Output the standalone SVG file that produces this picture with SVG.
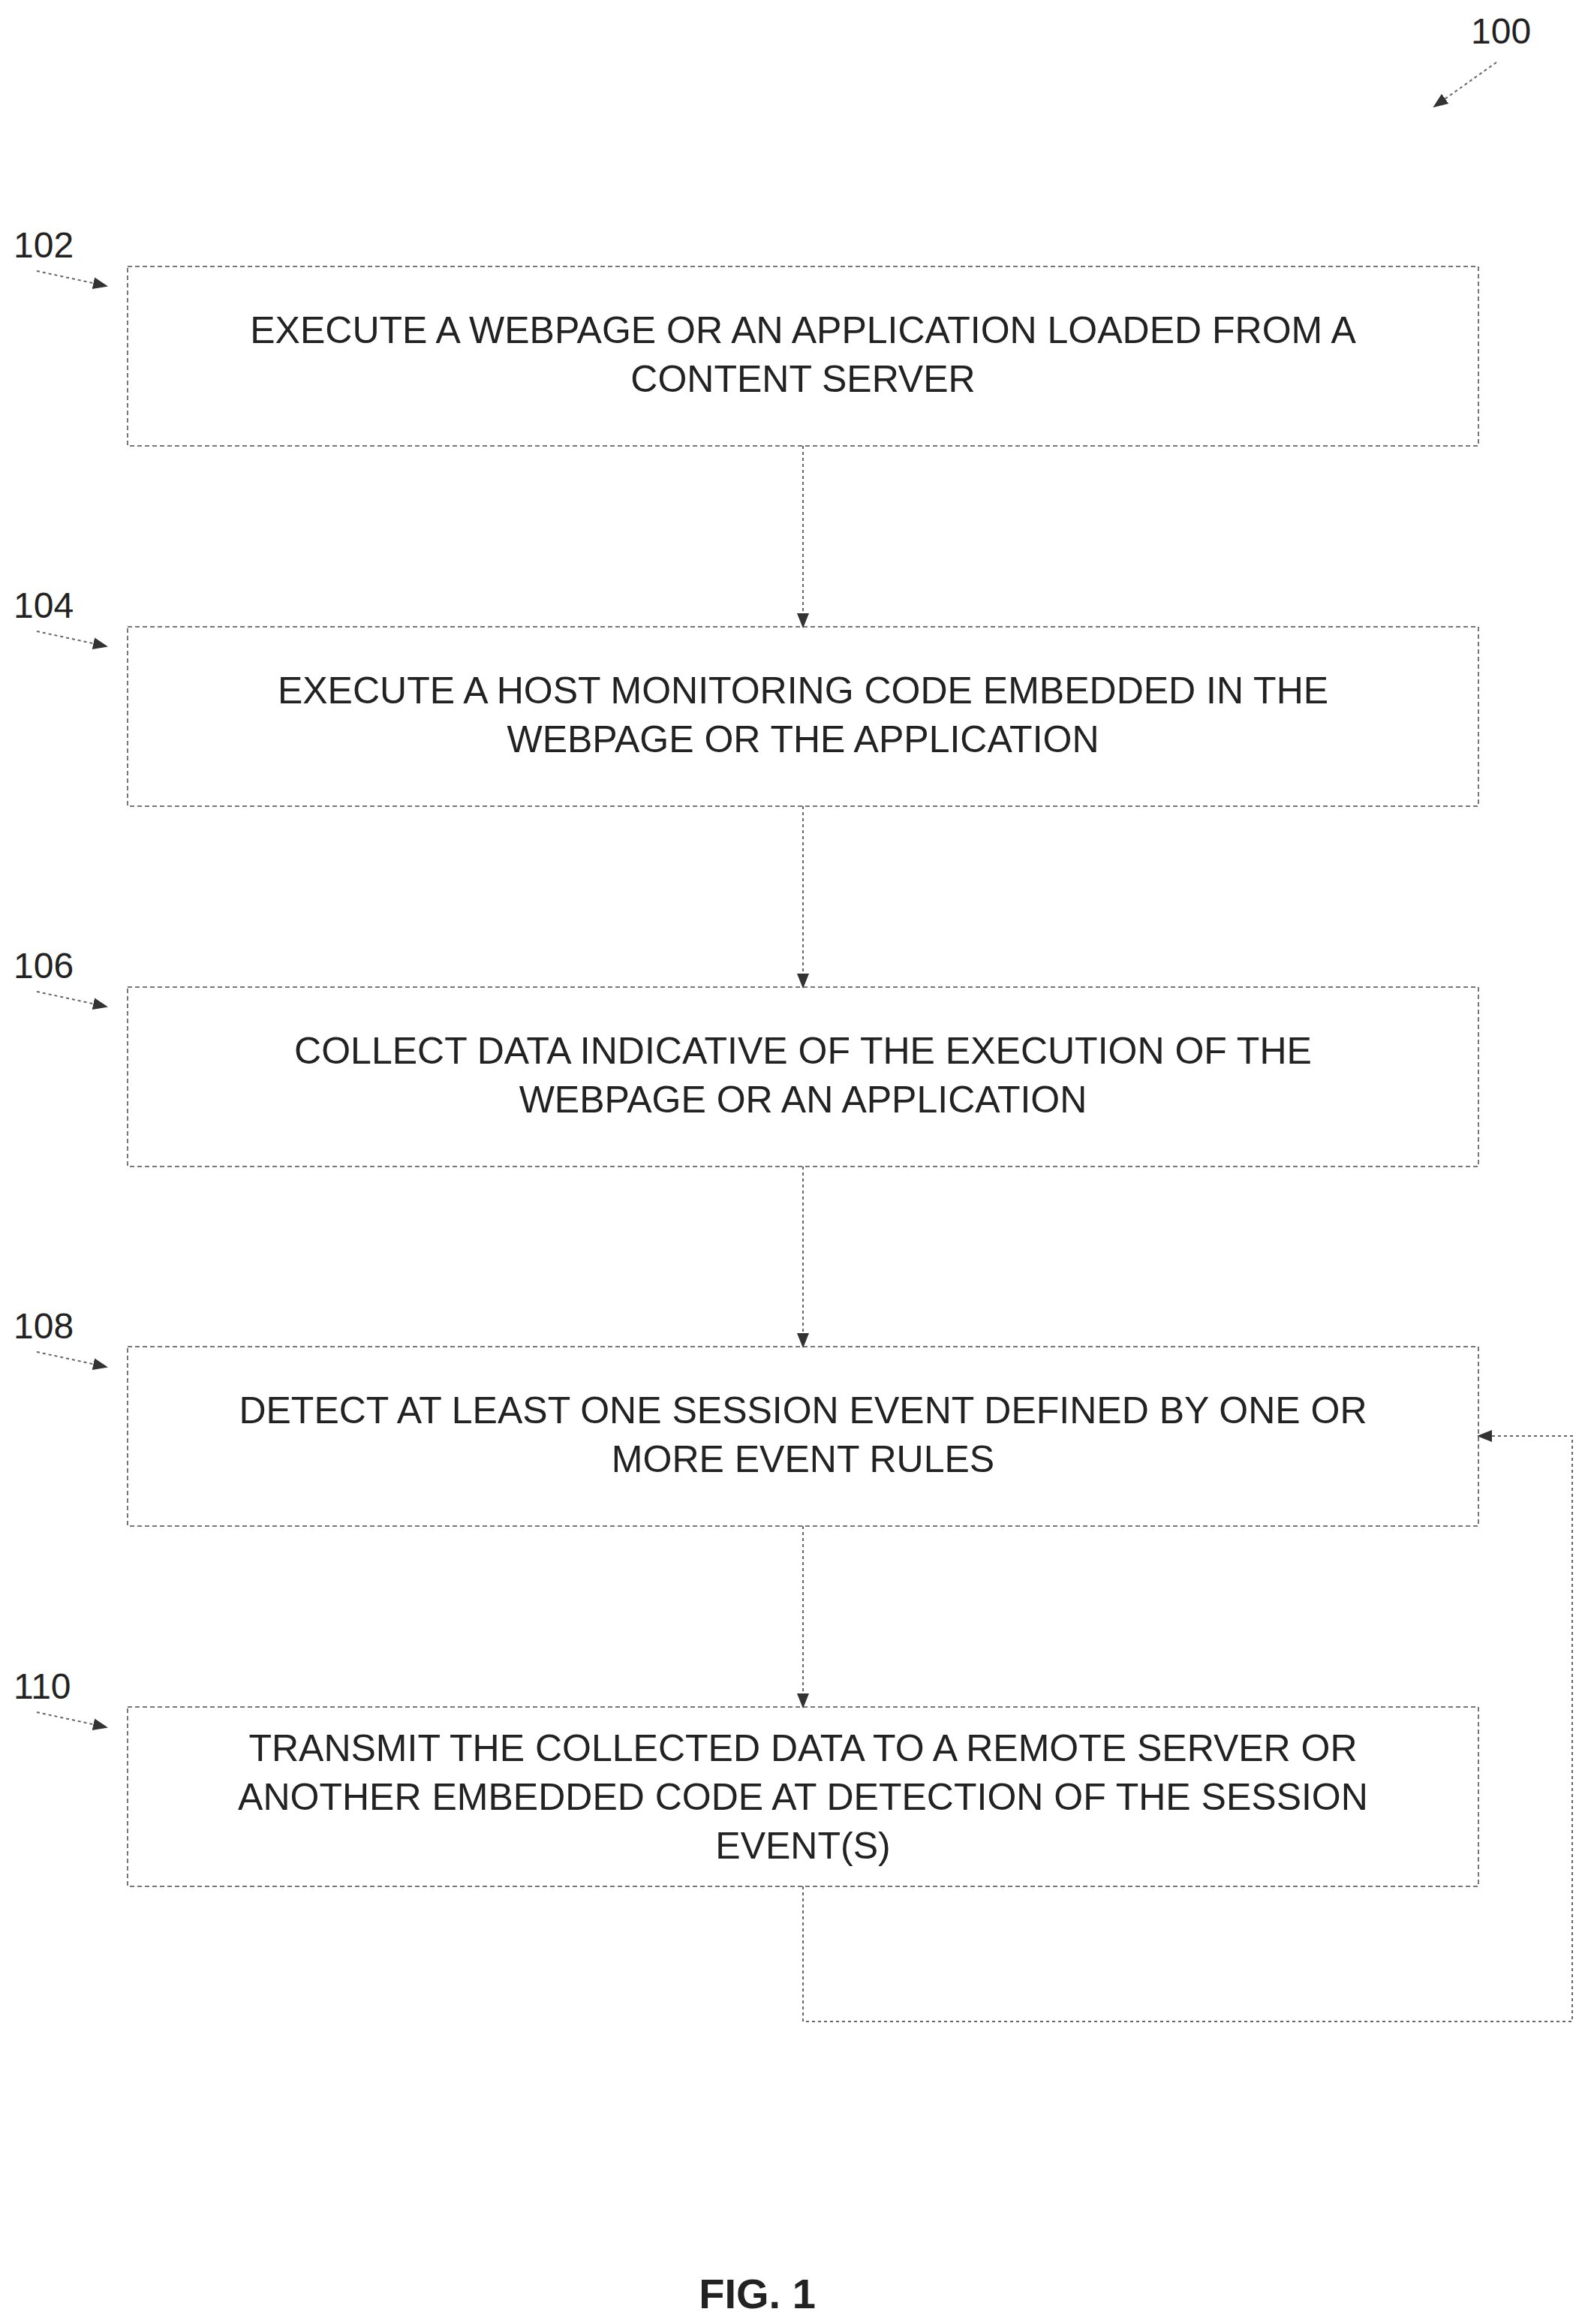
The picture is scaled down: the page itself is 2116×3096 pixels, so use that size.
<svg xmlns="http://www.w3.org/2000/svg" width="2116" height="3096" viewBox="0 0 2116 3096">
<style>
.box{fill:#fff;stroke:#777;stroke-width:2;stroke-dasharray:6 4}
.t{font-family:"Liberation Sans",Arial,sans-serif;font-size:50px;fill:#222;text-anchor:middle}
.lbl{font-family:"Liberation Sans",Arial,sans-serif;font-size:48px;fill:#222}
.c{fill:none;stroke:#666;stroke-width:2;stroke-dasharray:4 4}
</style>
<defs><marker id="a" markerWidth="10" markerHeight="10" refX="9" refY="5" orient="auto" markerUnits="userSpaceOnUse" viewBox="0 0 10 10"><path d="M0,0 L10,5 L0,10 Z" fill="#333"/></marker>
<marker id="b" markerWidth="20" markerHeight="20" refX="18" refY="10" orient="auto" markerUnits="userSpaceOnUse" viewBox="0 0 20 20"><path d="M0,2 L20,10 L0,18 Z" fill="#333"/></marker></defs>
<g id="ref100"><text class="lbl" x="1960" y="58">100</text><line class="c" x1="1994" y1="83" x2="1911" y2="142" marker-end="url(#b)"/></g>
<g id="n102"><text class="lbl" x="18" y="343">102</text><line class="c" x1="49" y1="361" x2="142" y2="381" marker-end="url(#b)"/>
<rect class="box" x="170" y="355" width="1800" height="239"/>
<text class="t" x="1070" y="457">EXECUTE A WEBPAGE OR AN APPLICATION LOADED FROM A</text><text class="t" x="1070" y="522">CONTENT SERVER</text></g>
<g id="n104"><text class="lbl" x="18" y="823">104</text><line class="c" x1="49" y1="841" x2="142" y2="861" marker-end="url(#b)"/>
<rect class="box" x="170" y="835" width="1800" height="239"/>
<text class="t" x="1070" y="937">EXECUTE A HOST MONITORING CODE EMBEDDED IN THE</text><text class="t" x="1070" y="1002">WEBPAGE OR THE APPLICATION</text></g>
<g id="n106"><text class="lbl" x="18" y="1303">106</text><line class="c" x1="49" y1="1321" x2="142" y2="1341" marker-end="url(#b)"/>
<rect class="box" x="170" y="1315" width="1800" height="239"/>
<text class="t" x="1070" y="1417">COLLECT DATA INDICATIVE OF THE EXECUTION OF THE</text><text class="t" x="1070" y="1482">WEBPAGE OR AN APPLICATION</text></g>
<g id="n108"><text class="lbl" x="18" y="1783">108</text><line class="c" x1="49" y1="1801" x2="142" y2="1821" marker-end="url(#b)"/>
<rect class="box" x="170" y="1794" width="1800" height="239"/>
<text class="t" x="1070" y="1896">DETECT AT LEAST ONE SESSION EVENT DEFINED BY ONE OR</text><text class="t" x="1070" y="1961">MORE EVENT RULES</text></g>
<g id="n110"><text class="lbl" x="18" y="2263">110</text><line class="c" x1="49" y1="2281" x2="142" y2="2301" marker-end="url(#b)"/>
<rect class="box" x="170" y="2274" width="1800" height="239"/>
<text class="t" x="1070" y="2346">TRANSMIT THE COLLECTED DATA TO A REMOTE SERVER OR</text><text class="t" x="1070" y="2411">ANOTHER EMBEDDED CODE AT DETECTION OF THE SESSION</text><text class="t" x="1070" y="2476">EVENT(S)</text></g>
<g id="connectors">
<line class="c" x1="1070" y1="594" x2="1070" y2="835" marker-end="url(#b)"/>
<line class="c" x1="1070" y1="1074" x2="1070" y2="1315" marker-end="url(#b)"/>
<line class="c" x1="1070" y1="1554" x2="1070" y2="1794" marker-end="url(#b)"/>
<line class="c" x1="1070" y1="2033" x2="1070" y2="2274" marker-end="url(#b)"/>
<polyline class="c" points="1070,2513 1070,2693 2095,2693 2095,1913 1970,1913" marker-end="url(#b)"/>
</g>
<text x="1009" y="3075" style="font-family:'Liberation Sans',Arial,sans-serif;font-size:56px;font-weight:bold;fill:#222;text-anchor:middle">FIG. 1</text>
</svg>
